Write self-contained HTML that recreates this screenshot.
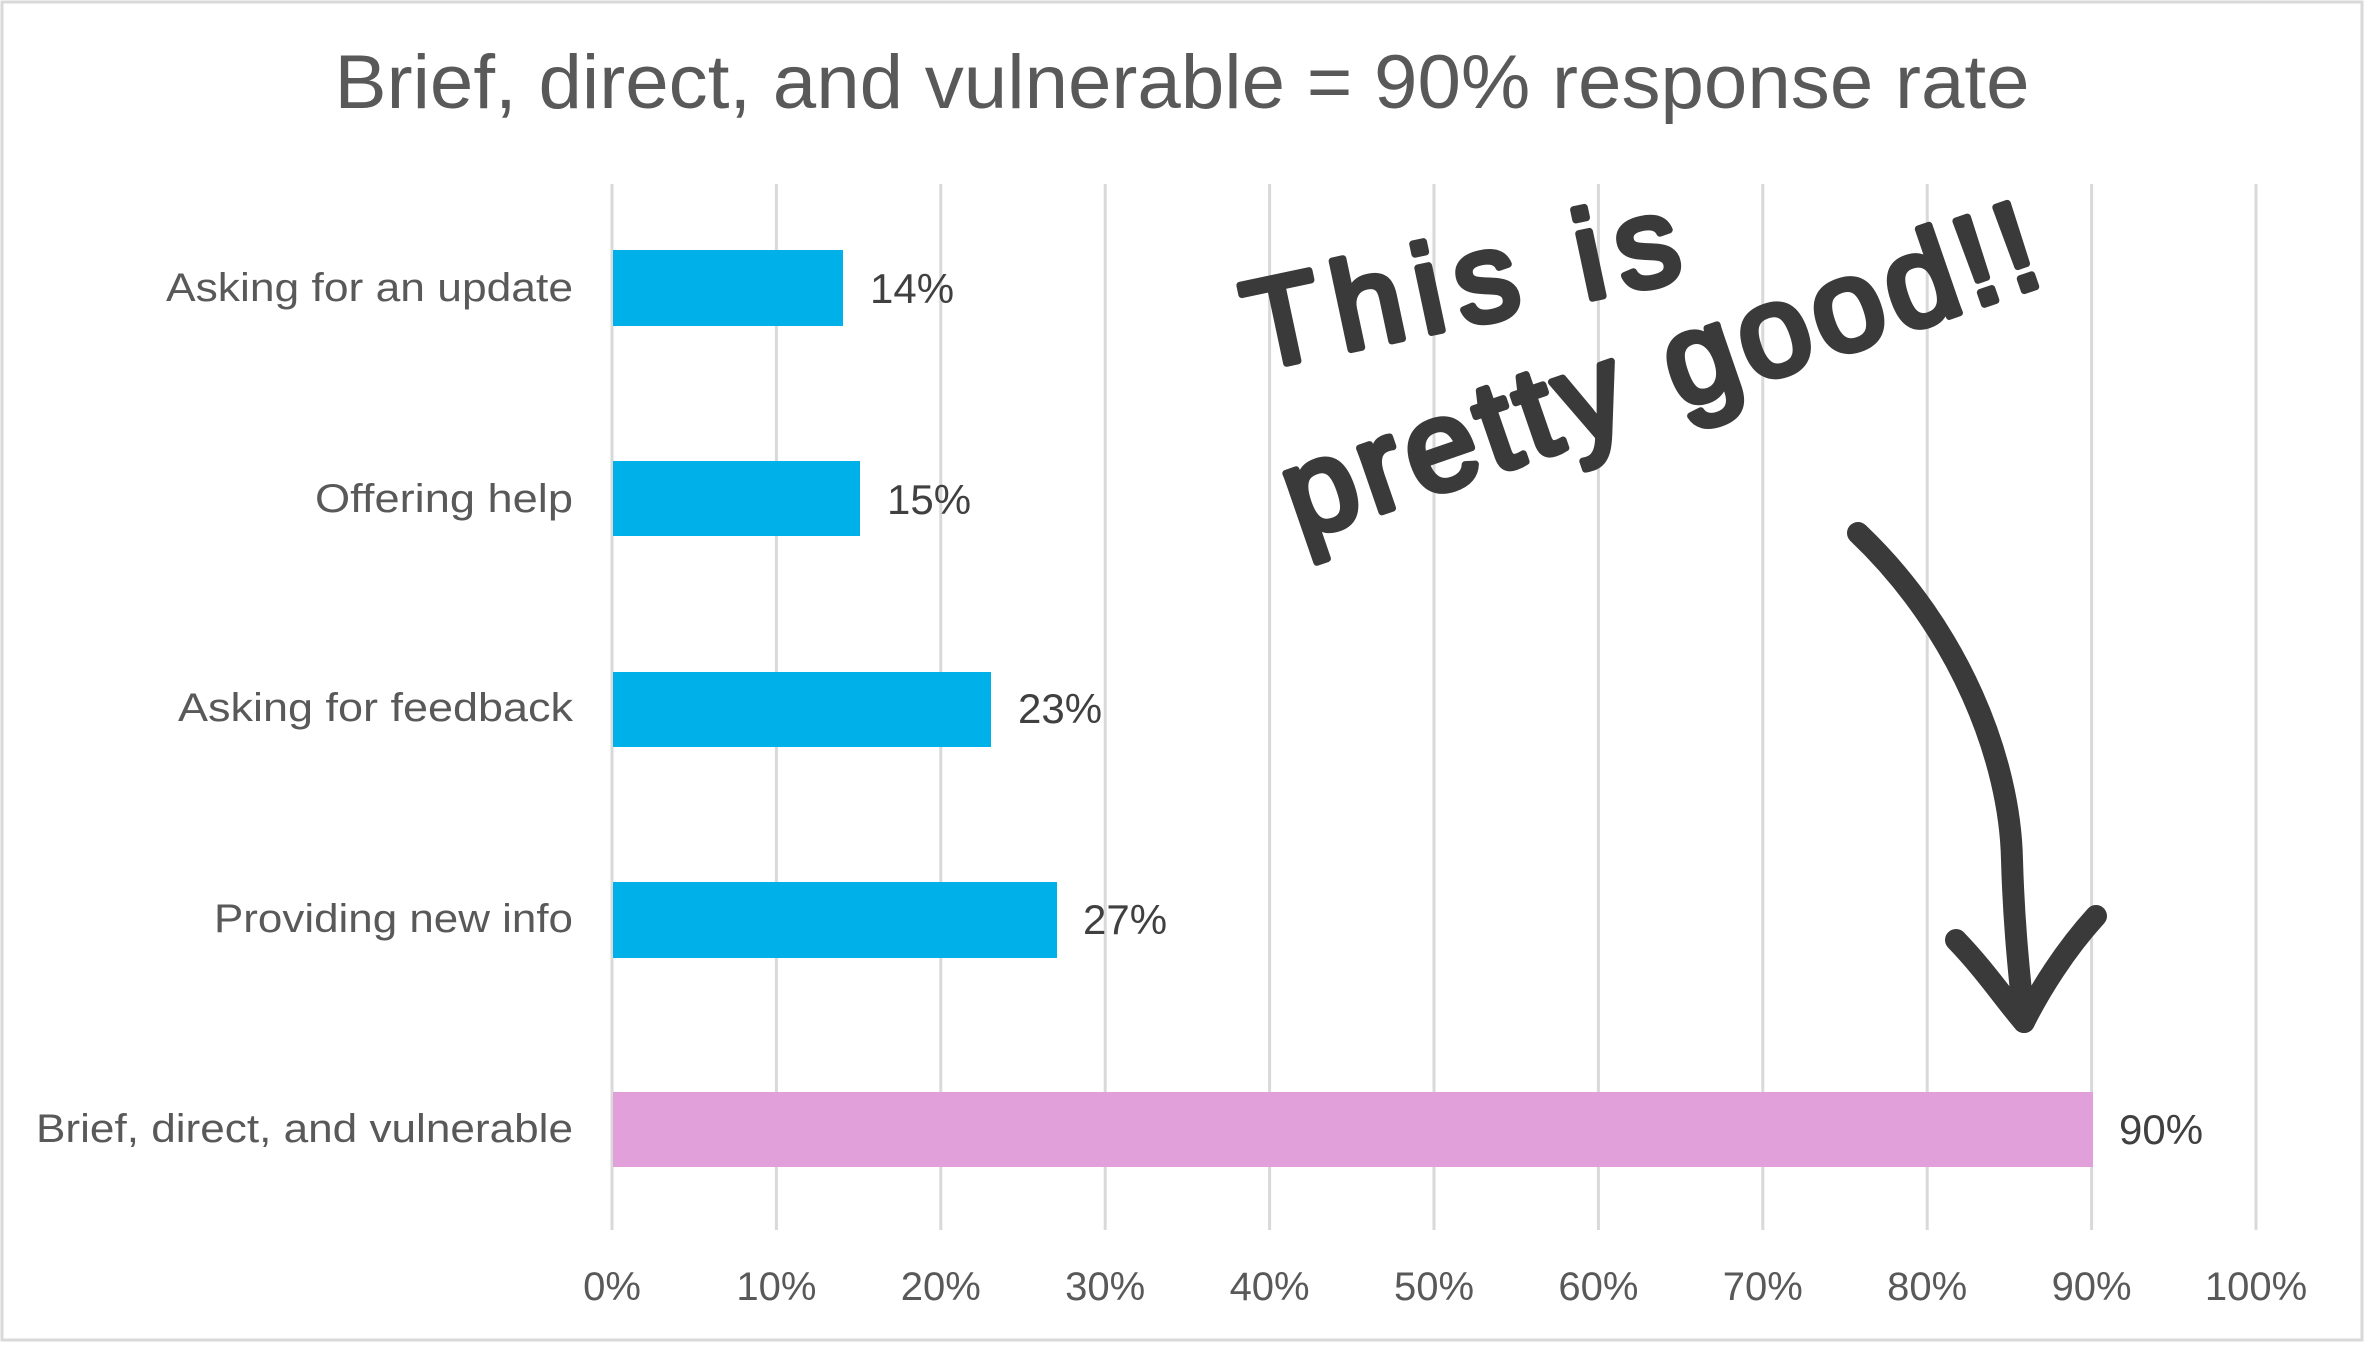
<!DOCTYPE html>
<html><head><meta charset="utf-8"><style>html,body{margin:0;padding:0;background:#fff}svg{display:block}</style></head>
<body>
<svg width="2365" height="1352" viewBox="0 0 2365 1352" xmlns="http://www.w3.org/2000/svg" font-family="Liberation Sans, sans-serif">
<rect x="2" y="2" width="2360" height="1338" fill="#fff" stroke="#d9d9d9" stroke-width="3"/>
<text x="1182" y="108" font-size="76" fill="#595959" text-anchor="middle" textLength="1695" lengthAdjust="spacingAndGlyphs">Brief, direct, and vulnerable = 90% response rate</text>
<g stroke="#d9d9d9" stroke-width="3">
<line x1="612" y1="184" x2="612" y2="1230"/><line x1="776.4" y1="184" x2="776.4" y2="1230"/><line x1="940.8" y1="184" x2="940.8" y2="1230"/><line x1="1105.2" y1="184" x2="1105.2" y2="1230"/><line x1="1269.6" y1="184" x2="1269.6" y2="1230"/><line x1="1434" y1="184" x2="1434" y2="1230"/><line x1="1598.4" y1="184" x2="1598.4" y2="1230"/><line x1="1762.8" y1="184" x2="1762.8" y2="1230"/><line x1="1927.2" y1="184" x2="1927.2" y2="1230"/><line x1="2091.6" y1="184" x2="2091.6" y2="1230"/><line x1="2256" y1="184" x2="2256" y2="1230"/>
</g>
<g fill="#00b0e8">
<rect x="613" y="250" width="230" height="76"/>
<rect x="613" y="461" width="247" height="75"/>
<rect x="613" y="672" width="378" height="75"/>
<rect x="613" y="882" width="444" height="76"/>
</g>
<rect x="613" y="1092" width="1480" height="75" fill="#e2a0da"/>
<g font-size="40" fill="#595959" text-anchor="end">
<text x="573" y="301" textLength="407" lengthAdjust="spacingAndGlyphs">Asking for an update</text>
<text x="573" y="512" textLength="258" lengthAdjust="spacingAndGlyphs">Offering help</text>
<text x="573" y="721" textLength="395" lengthAdjust="spacingAndGlyphs">Asking for feedback</text>
<text x="573" y="932" textLength="359" lengthAdjust="spacingAndGlyphs">Providing new info</text>
<text x="573" y="1142" textLength="537" lengthAdjust="spacingAndGlyphs">Brief, direct, and vulnerable</text>
</g>
<g font-size="42" fill="#404040">
<text x="870" y="303">14%</text>
<text x="887" y="514">15%</text>
<text x="1018" y="723">23%</text>
<text x="1083" y="934">27%</text>
<text x="2119" y="1144">90%</text>
</g>
<g font-size="40" fill="#595959" text-anchor="middle">
<text x="612" y="1300">0%</text><text x="776.4" y="1300">10%</text><text x="940.8" y="1300">20%</text><text x="1105.2" y="1300">30%</text><text x="1269.6" y="1300">40%</text><text x="1434" y="1300">50%</text><text x="1598.4" y="1300">60%</text><text x="1762.8" y="1300">70%</text><text x="1927.2" y="1300">80%</text><text x="2091.6" y="1300">90%</text><text x="2256" y="1300">100%</text>
</g>
<g fill="#3a3a3a" stroke="#3a3a3a" stroke-width="7" stroke-linejoin="round" stroke-linecap="round">
<text x="1255" y="370" font-size="125" transform="rotate(-12 1255 370)" textLength="440" lengthAdjust="spacing">This is</text>
<text x="1300" y="540" font-size="128" transform="rotate(-19 1300 540)" textLength="790" lengthAdjust="spacing">pretty good!!</text>
</g>
<g fill="none" stroke="#3a3a3a" stroke-width="22" stroke-linecap="round" stroke-linejoin="round">
<path d="M1858 533 C1960 630 2010 760 2012 860 C2014 930 2020 980 2024 1022"/>
<path d="M1956 940 C1985 970 2005 1000 2024 1022 C2040 990 2065 950 2096 916"/>
</g>
</svg>
</body></html>
